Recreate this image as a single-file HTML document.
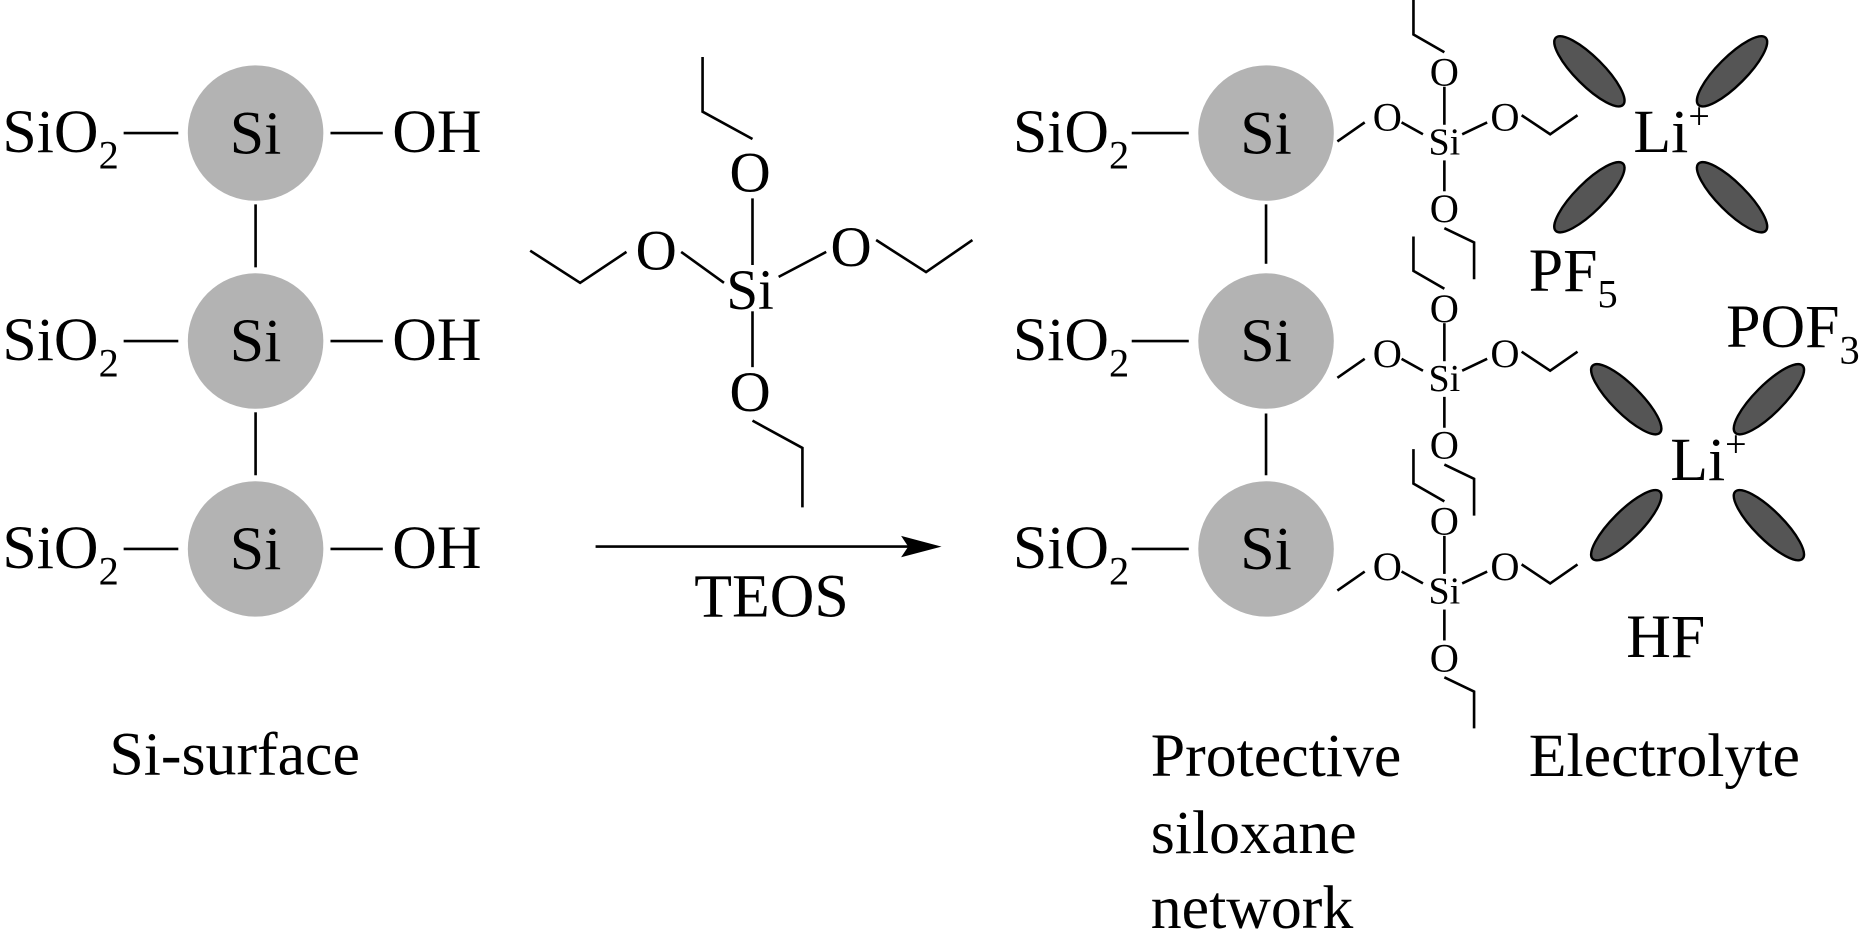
<!DOCTYPE html>
<html><head><meta charset="utf-8"><style>
html,body{margin:0;padding:0;background:#fff;}
svg{display:block;}
text{font-family:"Liberation Serif",serif;fill:#000;}
</style></head><body>
<svg width="1864" height="947" viewBox="0 0 1568 797" preserveAspectRatio="none" xmlns="http://www.w3.org/2000/svg">
<defs>
<g id="unit" stroke="#000" stroke-width="2.2" fill="none">
  <line x1="-90" y1="1" x2="-67" y2="-15"/>
  <line x1="-36" y1="-15" x2="-18" y2="-5"/>
  <line x1="15" y1="-5" x2="36" y2="-15"/>
  <polyline points="65,-21 89,-5 112,-21"/>
  <line x1="0" y1="-45" x2="0" y2="-13"/>
  <line x1="0" y1="17" x2="0" y2="43"/>
  <polyline points="-26,-118 -26,-89 0,-74"/>
  <polyline points="0,74 25,86 25,117"/>
  <g stroke="none" fill="#000">
    <text x="0" y="12" font-size="32" text-anchor="middle">Si</text>
    <text x="0" y="-46" font-size="34" text-anchor="middle">O</text>
    <text x="-48" y="-8" font-size="34" text-anchor="middle">O</text>
    <text x="51" y="-8" font-size="34" text-anchor="middle">O</text>
    <text x="0" y="69" font-size="34" text-anchor="middle">O</text>
  </g>
</g>
<g id="cl" fill="#555" stroke="#000" stroke-width="2">
  <ellipse cx="-37" cy="-68" rx="40" ry="12" transform="rotate(45 -37 -68)"/>
  <ellipse cx="83" cy="-68" rx="40" ry="12" transform="rotate(-45 83 -68)"/>
  <ellipse cx="-37" cy="38" rx="40" ry="12" transform="rotate(-45 -37 38)"/>
  <ellipse cx="83" cy="38" rx="40" ry="12" transform="rotate(45 83 38)"/>
  <text x="0" y="0" font-size="52" stroke="none" fill="#000">Li<tspan font-size="32" dy="-20">+</tspan></text>
</g>
</defs>

<g fill="#b3b3b3">
  <circle cx="215" cy="112" r="57"/>
  <circle cx="215" cy="287" r="57"/>
  <circle cx="215" cy="462" r="57"/>
  <circle cx="1065" cy="112" r="57"/>
  <circle cx="1065" cy="287" r="57"/>
  <circle cx="1065" cy="462" r="57"/>
</g>
<g stroke="#000" stroke-width="2.2">
  <line x1="104" y1="112" x2="150" y2="112"/><line x1="278" y1="112" x2="322" y2="112"/>
  <line x1="104" y1="287" x2="150" y2="287"/><line x1="278" y1="287" x2="322" y2="287"/>
  <line x1="104" y1="462" x2="150" y2="462"/><line x1="278" y1="462" x2="322" y2="462"/>
  <line x1="215" y1="172" x2="215" y2="225"/><line x1="215" y1="347" x2="215" y2="400"/>
  <line x1="952" y1="112" x2="1000" y2="112"/>
  <line x1="952" y1="287" x2="1000" y2="287"/>
  <line x1="952" y1="462" x2="1000" y2="462"/>
  <line x1="1065" y1="172" x2="1065" y2="222"/><line x1="1065" y1="348" x2="1065" y2="400"/>
</g>
<g font-size="52">
  <text x="2" y="128">SiO<tspan font-size="34" dy="14">2</tspan></text>
  <text x="2" y="303">SiO<tspan font-size="34" dy="14">2</tspan></text>
  <text x="2" y="478">SiO<tspan font-size="34" dy="14">2</tspan></text>
  <text x="215" y="129" text-anchor="middle">Si</text>
  <text x="215" y="304" text-anchor="middle">Si</text>
  <text x="215" y="479" text-anchor="middle">Si</text>
  <text x="330" y="128">OH</text>
  <text x="330" y="303">OH</text>
  <text x="330" y="478">OH</text>
  <text x="92" y="652">Si-surface</text>
  <text x="852" y="128">SiO<tspan font-size="34" dy="14">2</tspan></text>
  <text x="852" y="303">SiO<tspan font-size="34" dy="14">2</tspan></text>
  <text x="852" y="478">SiO<tspan font-size="34" dy="14">2</tspan></text>
  <text x="1065" y="129" text-anchor="middle">Si</text>
  <text x="1065" y="304" text-anchor="middle">Si</text>
  <text x="1065" y="479" text-anchor="middle">Si</text>
  <text x="584" y="519">TEOS</text>
  <text x="968" y="653">Protective</text>
  <text x="968" y="718">siloxane</text>
  <text x="968" y="781">network</text>
  <text x="1286" y="653">Electrolyte</text>
  <text x="1286" y="245">PF<tspan font-size="34" dy="14">5</tspan></text>
  <text x="1452" y="292">POF<tspan font-size="34" dy="14">3</tspan></text>
  <text x="1368" y="553">HF</text>
</g>

<g stroke="#000" stroke-width="2.2" fill="none">
  <polyline points="591,48 591,94 633,117"/>
  <line x1="633" y1="167" x2="633" y2="223"/>
  <line x1="633" y1="262" x2="633" y2="309"/>
  <polyline points="633,354 675,377 675,427"/>
  <polyline points="446,211 488,238 527,212"/>
  <line x1="573" y1="212" x2="609" y2="238"/>
  <line x1="655" y1="233" x2="695" y2="212"/>
  <polyline points="737,202 779,229 818,202"/>
  <line x1="501" y1="460" x2="770" y2="460"/>
</g>
<polygon points="792,460 758,451 764,460 758,469" fill="#000"/>
<g font-size="48" text-anchor="middle">
  <text x="631" y="161">O</text>
  <text x="631" y="260">Si</text>
  <text x="631" y="346">O</text>
  <text x="552" y="227">O</text>
  <text x="716" y="224">O</text>
</g>

<use href="#unit" transform="translate(1215,118)"/>
<use href="#unit" transform="translate(1215,317)"/>
<use href="#unit" transform="translate(1215,496)"/>

<use href="#cl" transform="translate(1374,128)"/>
<use href="#cl" transform="translate(1405,404)"/>
</svg>
</body></html>
